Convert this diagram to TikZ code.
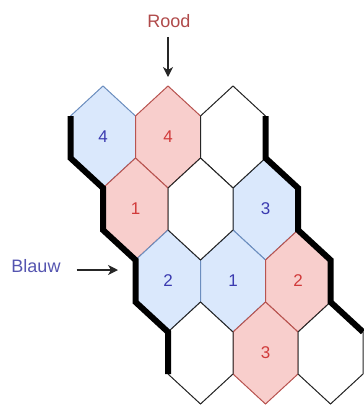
\documentclass[tikz,border=0pt]{standalone}
\usepackage{fontspec}
\setmainfont{Liberation Sans}
\usetikzlibrary{arrows.meta,positioning,calc}
\definecolor{blauwfill}{HTML}{DAE8FC}
\definecolor{blauwline}{HTML}{6C8EBF}
\definecolor{roodfill}{HTML}{F8CECC}
\definecolor{roodline}{HTML}{B85450}
\definecolor{blauwtext}{HTML}{3B3BB0}
\definecolor{roodtext}{HTML}{D13B3B}
\definecolor{labelblauw}{HTML}{5555B0}
\definecolor{labelrood}{HTML}{B04A4A}
% hexagon cell: name, centre, style, number
\newcommand{\hexcell}[4]{%
 \draw[#3,shift={(#2)}] (0,-51) -- (32.5,-21) -- (32.5,21) -- (0,51) -- (-32.5,21) -- (-32.5,-21) -- cycle;
 \node[#3 num] (#1) at (#2) {#4};}

\begin{document}
\begin{tikzpicture}[x=1pt,y=-1pt,
 bluecell/.style={draw=blauwline,fill=blauwfill,line width=1pt},
 redcell/.style={draw=roodline,fill=roodfill,line width=1pt},
 emptycell/.style={draw=black!85,fill=white,line width=1pt},
 bluecell num/.style={text=blauwtext,font=\fontsize{17}{17}\selectfont},
 redcell num/.style={text=roodtext,font=\fontsize{17}{17}\selectfont},
 emptycell num/.style={},
 wall/.style={line width=6pt,line join=miter},
 arr/.style={-{Stealth[length=10pt,width=10pt,inset=3pt]},line width=1.3pt,black!85},
 sidelabel/.style={font=\fontsize{18}{18}\selectfont,inner sep=0pt}]
\useasboundingbox (0,0) rectangle (364,405);

% coloured cells first
\hexcell{a1}{103,137}{bluecell}{4}
\hexcell{b1}{168,137}{redcell}{4}
\hexcell{a2}{135.5,209}{redcell}{1}
\hexcell{c2}{265.5,209}{bluecell}{3}
\hexcell{a3}{168,281}{bluecell}{2}
\hexcell{b3}{233,281}{bluecell}{1}
\hexcell{c3}{298,281}{redcell}{2}
\hexcell{b4}{265.5,353}{redcell}{3}
% empty cells
\hexcell{c1}{233,137}{emptycell}{}
\hexcell{b2}{200.5,209}{emptycell}{}
\hexcell{a4}{200.5,353}{emptycell}{}
\hexcell{c4}{330.5,353}{emptycell}{}

% blue borders
\draw[wall] (70.5,116) -- (70.5,158) -- (103,188) -- (103,230) -- (135.5,260) -- (135.5,302) -- (168,332) -- (168,374);
\draw[wall] (265.5,116) -- (265.5,158) -- (298,188) -- (298,230) -- (330.5,260) -- (330.5,302) -- (363,332);

% players
\node[sidelabel,text=labelrood] (rood) at (169,21) {Rood};
\coordinate (roodtip) at (168,77);
\draw[arr,shorten <=9pt] (rood.south -| roodtip) -- (roodtip);
\node[sidelabel,text=labelblauw] (blauw) at (36,266) {Blauw};
\coordinate (blauwtip) at (118,270);
\draw[arr,shorten <=16pt] (blauw.east |- blauwtip) -- (blauwtip);
\end{tikzpicture}
\end{document}
